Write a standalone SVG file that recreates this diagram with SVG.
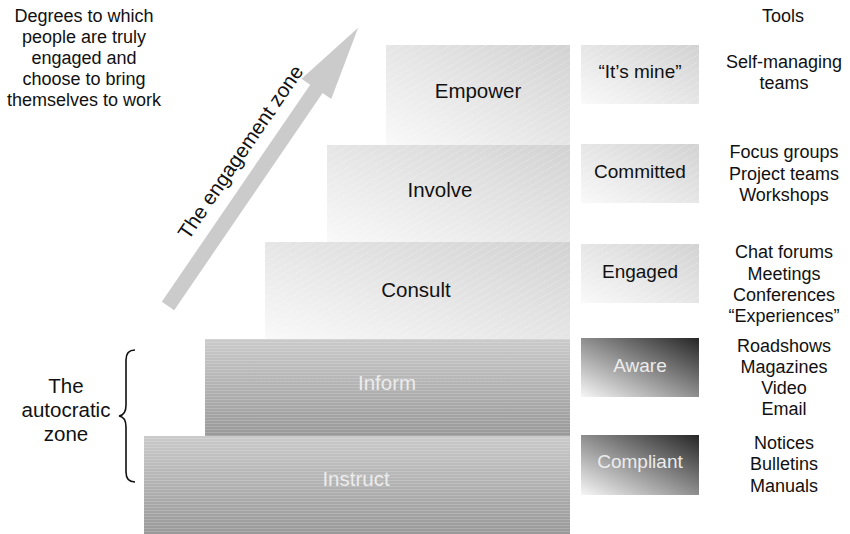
<svg xmlns="http://www.w3.org/2000/svg" width="850" height="534" viewBox="0 0 850 534">
<defs>
<linearGradient id="gLight" x1="1" y1="0" x2="0" y2="1">
<stop offset="0" stop-color="#d2d2d2"/>
<stop offset="1" stop-color="#f9f9f9"/>
</linearGradient>
<linearGradient id="gDark" x1="1" y1="0" x2="0" y2="1">
<stop offset="0" stop-color="#262626"/>
<stop offset="1" stop-color="#f6f6f6"/>
</linearGradient>
<linearGradient id="gMid" x1="0" y1="0" x2="0" y2="1">
<stop offset="0" stop-color="#cacaca"/>
<stop offset="1" stop-color="#999999"/>
</linearGradient>
<pattern id="pDiag" width="6" height="6" patternUnits="userSpaceOnUse" patternTransform="rotate(-30)">
<line x1="0" y1="0.5" x2="6" y2="0.5" stroke="#ffffff" stroke-width="1" stroke-dasharray="1.5 1.5" opacity="0.35"/>
</pattern>
<pattern id="pHoriz" width="4" height="3" patternUnits="userSpaceOnUse">
<rect x="0" y="0" width="4" height="1" fill="#ffffff" opacity="0.18"/>
</pattern>
</defs>
<style>
text { font-family: "Liberation Sans", Arial, sans-serif; fill: #111; }
.step { font-size: 20.5px; text-anchor: middle; }
.stepw { font-size: 20.5px; text-anchor: middle; fill: #ececec; }
.badge { font-size: 19px; text-anchor: middle; }
.badgew { font-size: 19px; text-anchor: middle; fill: #ececec; }
.tool { font-size: 18px; text-anchor: middle; }
.note { font-size: 18px; text-anchor: middle; }
.zone { font-size: 20.5px; text-anchor: middle; }
</style>

<g id="intro-text">
<text class="note" x="84" y="22">Degrees to which</text>
<text class="note" x="84" y="43">people are truly</text>
<text class="note" x="84" y="64">engaged and</text>
<text class="note" x="84" y="85">choose to bring</text>
<text class="note" x="84" y="106">themselves to work</text>
</g>
<g id="tools-title">
<text class="tool" x="783" y="22">Tools</text>
</g>

<g id="connectors">
<g id="engagement-arrow" transform="translate(168,306) rotate(-55.65)">
<polygon points="0,-7.5 263,-7.5 263,-18 337,0 263,18 263,7.5 0,7.5" fill="#cbcbcb"/>
<text x="168" y="-20" style="font-size:20.5px;text-anchor:middle">The engagement zone</text>
</g>
<path id="brace" d="M135,350 Q126,350 126,360 L126,405 Q126,415 119,416 Q126,417 126,427 L126,472 Q126,482 135,482" fill="none" stroke="#111" stroke-width="1.6"/>
</g>

<g id="autocratic-label">
<text class="zone" x="66" y="393">The</text>
<text class="zone" x="66" y="417">autocratic</text>
<text class="zone" x="66" y="441">zone</text>
</g>

<g id="step-empower">
<rect x="386" y="45" width="184" height="100" fill="url(#gLight)"/>
<rect x="386" y="45" width="184" height="100" fill="url(#pDiag)"/>
<text class="step" x="478" y="98">Empower</text>
</g>
<g id="step-involve">
<rect x="327" y="145" width="243" height="97" fill="url(#gLight)"/>
<rect x="327" y="145" width="243" height="97" fill="url(#pDiag)"/>
<text class="step" x="440" y="197">Involve</text>
</g>
<g id="step-consult">
<rect x="265" y="242" width="305" height="97" fill="url(#gLight)"/>
<rect x="265" y="242" width="305" height="97" fill="url(#pDiag)"/>
<text class="step" x="416" y="297">Consult</text>
</g>
<g id="step-inform">
<rect x="205" y="339" width="365" height="97" fill="url(#gMid)"/>
<rect x="205" y="339" width="365" height="97" fill="url(#pHoriz)"/>
<text class="stepw" x="387" y="390">Inform</text>
</g>
<g id="step-instruct">
<rect x="144" y="436" width="426" height="98" fill="url(#gMid)"/>
<rect x="144" y="436" width="426" height="98" fill="url(#pHoriz)"/>
<text class="stepw" x="356" y="486">Instruct</text>
</g>

<g id="badge-mine">
<rect x="581" y="45" width="118" height="59" fill="url(#gLight)"/>
<rect x="581" y="45" width="118" height="59" fill="url(#pDiag)"/>
<text class="badge" x="640" y="78">“It’s mine”</text>
</g>
<g id="badge-committed">
<rect x="581" y="144" width="118" height="59" fill="url(#gLight)"/>
<rect x="581" y="144" width="118" height="59" fill="url(#pDiag)"/>
<text class="badge" x="640" y="178">Committed</text>
</g>
<g id="badge-engaged">
<rect x="581" y="244" width="118" height="59" fill="url(#gLight)"/>
<rect x="581" y="244" width="118" height="59" fill="url(#pDiag)"/>
<text class="badge" x="640" y="278">Engaged</text>
</g>
<g id="badge-aware">
<rect x="581" y="338" width="118" height="59" fill="url(#gDark)"/>
<text class="badgew" x="640" y="372">Aware</text>
</g>
<g id="badge-compliant">
<rect x="581" y="435" width="118" height="60" fill="url(#gDark)"/>
<text class="badgew" x="640" y="468">Compliant</text>
</g>

<g id="tools-empower">
<text class="tool" x="784" y="68">Self-managing</text>
<text class="tool" x="784" y="89">teams</text>
</g>
<g id="tools-involve">
<text class="tool" x="784" y="158">Focus groups</text>
<text class="tool" x="784" y="180">Project teams</text>
<text class="tool" x="784" y="201">Workshops</text>
</g>
<g id="tools-consult">
<text class="tool" x="784" y="258">Chat forums</text>
<text class="tool" x="784" y="280">Meetings</text>
<text class="tool" x="784" y="301">Conferences</text>
<text class="tool" x="784" y="322">“Experiences”</text>
</g>
<g id="tools-inform">
<text class="tool" x="784" y="352">Roadshows</text>
<text class="tool" x="784" y="373">Magazines</text>
<text class="tool" x="784" y="394">Video</text>
<text class="tool" x="784" y="415">Email</text>
</g>
<g id="tools-instruct">
<text class="tool" x="784" y="449">Notices</text>
<text class="tool" x="784" y="470">Bulletins</text>
<text class="tool" x="784" y="492">Manuals</text>
</g>
</svg>
